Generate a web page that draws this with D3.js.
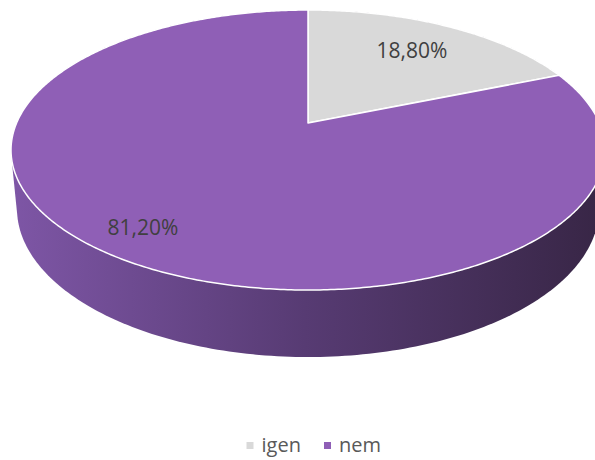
<!DOCTYPE html>
<html>
<head>
<meta charset="utf-8">
<script src="https://cdn.jsdelivr.net/npm/d3@7"></script>
<style>
  body { margin: 0; background: #fff; }
  svg { display: block; font-family: "Open Sans", "DejaVu Sans", sans-serif; }
</style>
</head>
<body>
<div id="chart"></div>
<script>
// data
var categories = ["igen", "nem"];
var values = [18.8, 81.2];
var labels = ["18,80%", "81,20%"];
var colors = ["#d9d9d9", "#8f5fb6"];

var width = 595, height = 460;

// perspective of the 3d disk: u right, v toward viewer, z down (0 = top, 1 = bottom)
var cx = 308, cy = 123,
    ax = 291.4, by = 134.8,
    k = -0.193, depth = 58.7, m = 0.0198;

function proj(u, v, z) {
  var w = 1 + k * v + m * z;
  return [cx + ax * u / w, cy + (by * v + depth * z) / w];
}
// angle clockwise from 12 o'clock (far side)
function rim(a, z) { return proj(Math.sin(a), -Math.cos(a), z); }

var svg = d3.select("#chart").append("svg")
    .attr("width", width)
    .attr("height", height);

var defs = svg.append("defs");
var grad = defs.append("linearGradient")
    .attr("id", "wallGrad")
    .attr("gradientUnits", "userSpaceOnUse")
    .attr("x1", 10).attr("y1", 0).attr("x2", 600).attr("y2", 0);
grad.append("stop").attr("offset", 0).attr("stop-color", "#7e56a6");
grad.append("stop").attr("offset", 0.5).attr("stop-color", "#573b73");
grad.append("stop").attr("offset", 1).attr("stop-color", "#382646");

// side wall = hull of top and bottom rims
var pts = [];
d3.range(0, 361).forEach(function(i) {
  var a = i / 360 * 2 * Math.PI;
  pts.push(rim(a, 0));
  pts.push(rim(a, 1));
});
var hull = d3.polygonHull(pts);
svg.append("path")
    .attr("d", "M" + hull.join("L") + "Z")
    .attr("fill", "url(#wallGrad)");

// top face slices
var pie = d3.pie().sort(null).value(function(d) { return d; });
var arcs = pie(values);

function slicePath(d) {
  var n = Math.max(2, Math.ceil((d.endAngle - d.startAngle) / 0.01));
  var p = [proj(0, 0, 0)];
  for (var i = 0; i <= n; i++) {
    p.push(rim(d.startAngle + (d.endAngle - d.startAngle) * i / n, 0));
  }
  return "M" + p.join("L") + "Z";
}

svg.append("g").selectAll("path")
    .data(arcs)
  .enter().append("path")
    .attr("d", slicePath)
    .attr("fill", function(d, i) { return colors[i]; })
    .attr("stroke", "#fff")
    .attr("stroke-width", 1.5)
    .attr("stroke-linejoin", "round");

// data labels
var labelPos = [[412, 51], [143, 228]];
svg.append("g").selectAll("text")
    .data(labels)
  .enter().append("text")
    .attr("x", function(d, i) { return labelPos[i][0]; })
    .attr("y", function(d, i) { return labelPos[i][1]; })
    .attr("dy", "0.35em")
    .attr("text-anchor", "middle")
    .attr("font-size", 21)
    .attr("fill", "#404040")
    .text(function(d) { return d; });

// legend
var legendX = [246.5, 324];
var legend = svg.append("g").selectAll("g")
    .data(categories)
  .enter().append("g")
    .attr("transform", function(d, i) { return "translate(" + legendX[i] + ",445.5)"; });
legend.append("rect")
    .attr("x", 0).attr("y", -3.5)
    .attr("width", 7).attr("height", 7)
    .attr("fill", function(d, i) { return colors[i]; });
legend.append("text")
    .attr("x", 15)
    .attr("dy", "0.32em")
    .attr("font-size", 20)
    .attr("fill", "#595959")
    .text(function(d) { return d; });
</script>
</body>
</html>
